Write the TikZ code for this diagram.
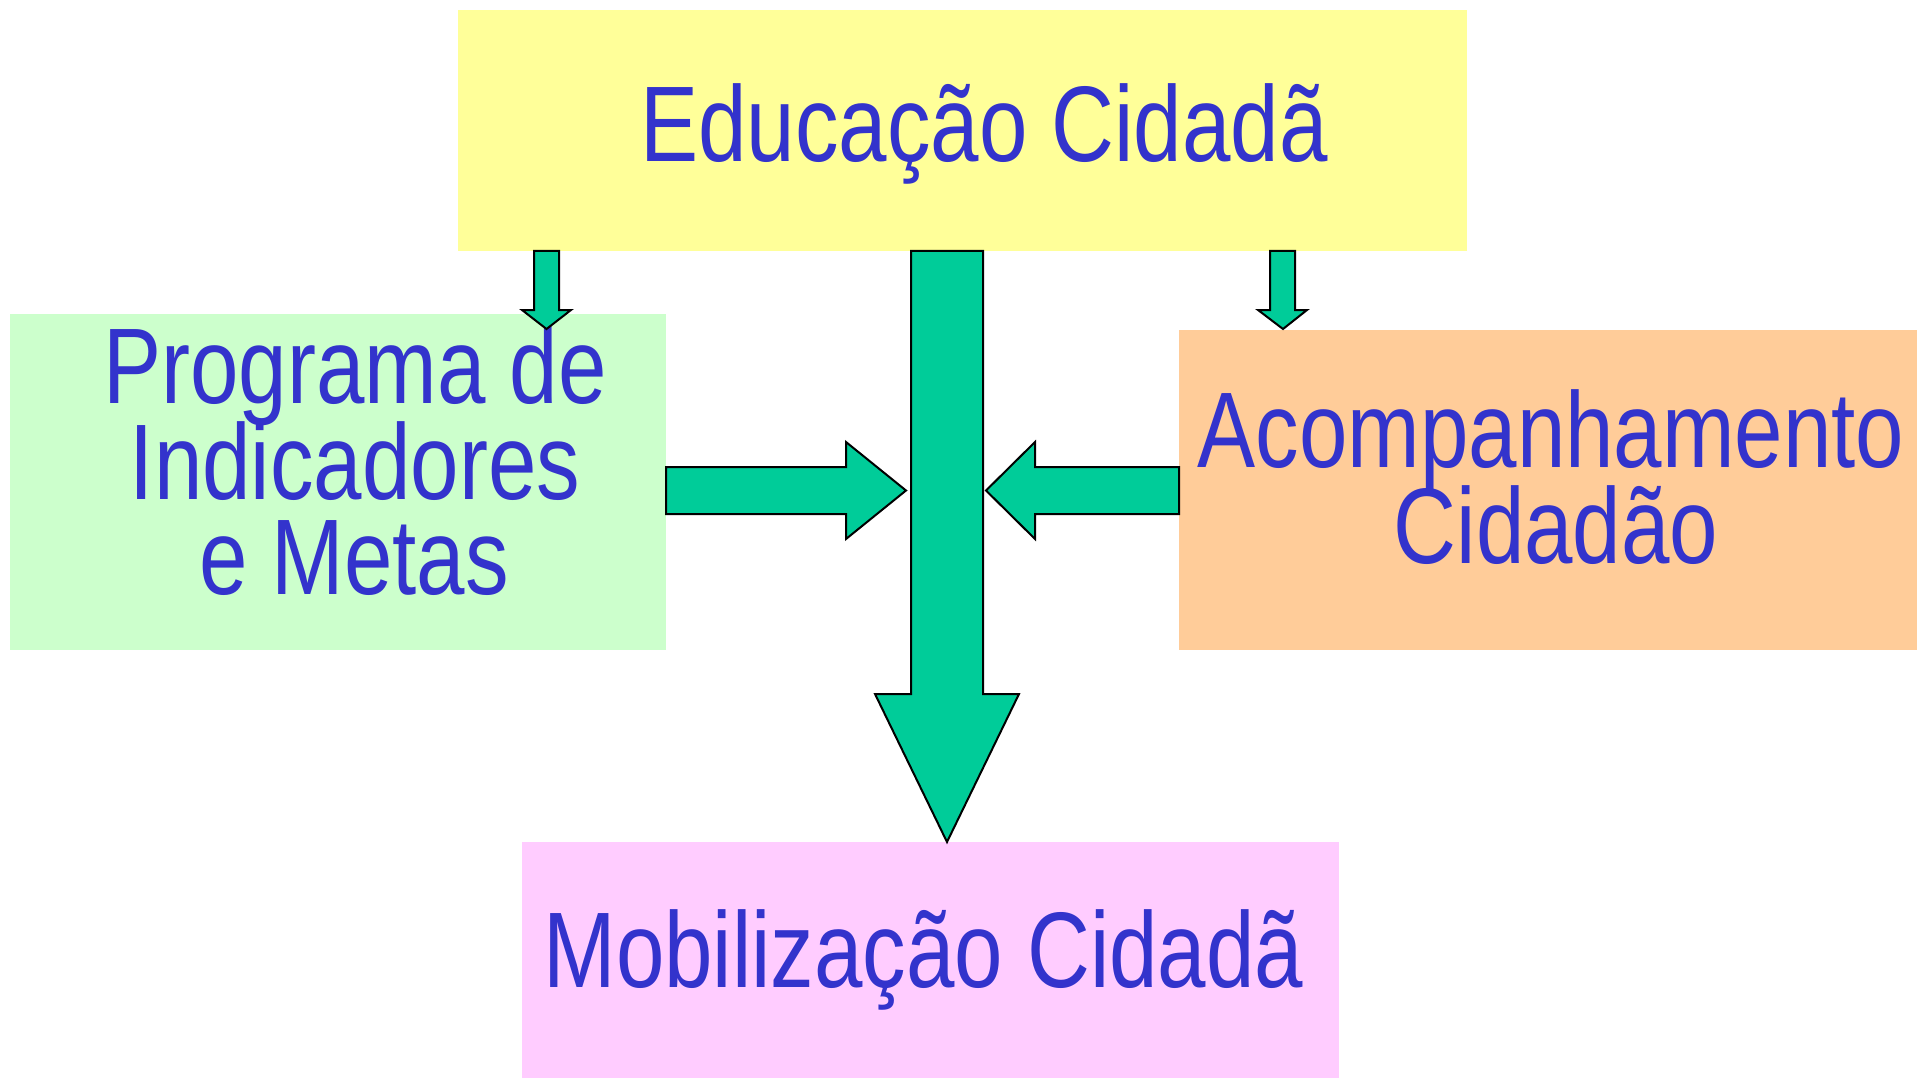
\documentclass[tikz,border=0pt]{standalone}
\usepackage{fontspec}
\setmainfont{Liberation Sans}[FakeStretch=0.81]
\definecolor{boxyellow}{HTML}{FFFF99}
\definecolor{boxgreen}{HTML}{CCFFCC}
\definecolor{boxorange}{HTML}{FFCC99}
\definecolor{boxpink}{HTML}{FFCCFF}
\definecolor{arrowfill}{HTML}{00CC99}
\definecolor{txtblue}{HTML}{3333CC}
\begin{document}
\begin{tikzpicture}[x=1pt,y=-1pt,
  panel/.style={draw=none,rectangle,inner sep=0pt,anchor=north west},
  label/.style={text=txtblue,inner sep=0pt,anchor=base,font=\fontsize{107.5}{96}\selectfont},
  blockarrow/.style={fill=arrowfill,draw=black,line width=2pt,line join=miter}]
\useasboundingbox (0,0) rectangle (1917,1078);
\fill[white] (0,0) rectangle (1917,1078);
% boxes
\node[panel,fill=boxyellow,minimum width=1009pt,minimum height=241pt] (edu) at (458,10) {};
\node[panel,fill=boxgreen,minimum width=656pt,minimum height=336pt] (prog) at (10,314) {};
\node[panel,fill=boxorange,minimum width=738pt,minimum height=320pt] (acomp) at (1179,330) {};
\node[panel,fill=boxpink,minimum width=817pt,minimum height=236pt] (mob) at (522,842) {};
% texts
\node[label] (tedu) at (984,162) {Educação Cidadã};
\node[label] (tprog1) at (355,403) {Programa de};
\node[label] (tprog2) at (355,499) {Indicadores};
\node[label] (tprog3) at (354,594) {e Metas};
\node[label] (tacomp1) at (1551,467) {Acompanhamento};
\node[label] (tacomp2) at (1556,563) {Cidadão};
\node[label] (tmob) at (923.5,987) {Mobilização Cidadã};
% connector end points
\coordinate (tipL) at (546.5,329);
\coordinate (tipR) at (1283,329);
\coordinate (tipC) at (947,842);
\coordinate (tipP) at (906,490.5);
\coordinate (tipA) at (986,490.5);
% small left arrow
\draw[blockarrow] (534,251) -- (559,251) -- (559,310) -- (571,310) -- (tipL) -- (522,310) -- (534,310) -- cycle;
% small right arrow
\draw[blockarrow] (1270,251) -- (1295,251) -- (1295,310) -- (1307,310) -- (tipR) -- (1258,310) -- (1270,310) -- cycle;
% big central arrow
\draw[blockarrow] (911,251) -- (983,251) -- (983,694) -- (1019,694) -- (tipC) -- (875,694) -- (911,694) -- cycle;
% arrow from green box
\draw[blockarrow] (666,467) -- (846,467) -- (846,442) -- (tipP) -- (846,539) -- (846,514) -- (666,514) -- cycle;
% arrow from orange box
\draw[blockarrow] (1179,467) -- (1035,467) -- (1035,442) -- (tipA) -- (1035,539) -- (1035,514) -- (1179,514) -- cycle;
\end{tikzpicture}
\end{document}
